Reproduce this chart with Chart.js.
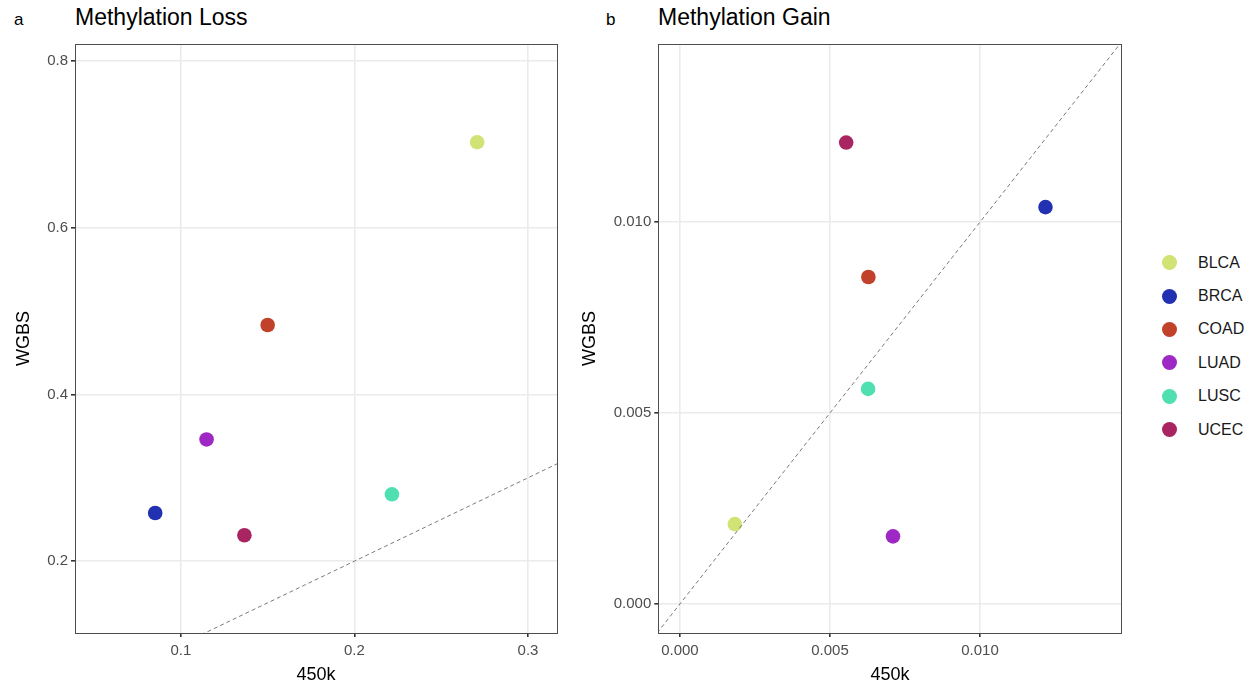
<!DOCTYPE html>
<html>
<head>
<meta charset="utf-8">
<script src="https://cdn.jsdelivr.net/npm/chart.js@4.4.1/dist/chart.umd.min.js"></script>
<style>
  body { margin: 0; background: #fff; font-family: "Liberation Sans", Arial, sans-serif; }
  #wrap { position: relative; width: 1257px; height: 689px; overflow: hidden; }
  canvas { position: absolute; top: 0; }
  .tag { position: absolute; font-size: 17px; color: #000; }
  .ttl { position: absolute; font-size: 23px; color: #000; }
  #legend { position: absolute; left: 1162px; top: 246px; }
  .item { height: 33.4px; display: flex; align-items: center; font-size: 16px; color: #1a1a1a; }
  .dot { width: 15px; height: 15px; border-radius: 50%; margin-right: 21px; }
</style>
</head>
<body>
<div id="wrap">
  <div class="tag" style="left:14px;top:10px">a</div>
  <div class="ttl" style="left:75px;top:4px">Methylation Loss</div>
  <div class="tag" style="left:606px;top:10px">b</div>
  <div class="ttl" style="left:658px;top:4px">Methylation Gain</div>
  <canvas id="loss" width="580" height="689" style="left:0"></canvas>
  <canvas id="gain" width="574" height="689" style="left:566px"></canvas>
  <div id="legend"></div>
</div>
<script>
const categories = ['BLCA', 'BRCA', 'COAD', 'LUAD', 'LUSC', 'UCEC'];
const colors = ['#d0e374', '#2230b2', '#c1412a', '#9e28c4', '#4fdfb1', '#a82562'];

// panel a: methylation loss
const lossX = [0.2707, 0.0852, 0.1500, 0.1148, 0.2216, 0.1366];
const lossY = [0.7026, 0.2578, 0.4833, 0.3460, 0.2802, 0.2311];
const lossTicksX = [0.1, 0.2, 0.3];
const lossTicksY = [0.2, 0.4, 0.6, 0.8];
const lossRangeX = [0.039, 0.3167];
const lossRangeY = [0.1138, 0.8204];

// panel b: methylation gain
const gainX = [0.00183, 0.01218, 0.00628, 0.00710, 0.00627, 0.00554];
const gainY = [0.00209, 0.01039, 0.00856, 0.00177, 0.00563, 0.01208];
const gainTicksX = [0, 0.005, 0.010];
const gainTicksY = [0, 0.005, 0.010];
const gainRangeX = [-0.00072, 0.01472];
const gainRangeY = [-0.00076, 0.01466];

const FONT = '"Liberation Sans", Arial, sans-serif';

const panelBox = {
  id: 'panelBox',
  afterDraw(chart) {
    const a = chart.chartArea, ctx = chart.ctx;
    ctx.save();
    ctx.strokeStyle = '#4d4d4d';
    ctx.lineWidth = 1;
    ctx.strokeRect(Math.round(a.left) + 0.5, Math.round(a.top) + 0.5,
      Math.round(a.right - a.left), Math.round(a.bottom - a.top));
    ctx.restore();
  }
};

function makeAxis(range, ticks, digits, titleText, horizontal, size) {
  return {
    type: 'linear',
    min: range[0],
    max: range[1],
    afterBuildTicks: s => { s.ticks = ticks.map(v => ({ value: v })); },
    afterFit: s => { if (horizontal) s.height = size; else s.width = size; },
    grid: { color: '#ebebeb', lineWidth: 1.6, tickColor: '#333333', tickLength: 4, drawTicks: true },
    border: { display: false },
    ticks: {
      color: '#4d4d4d', font: { family: FONT, size: 15 }, padding: horizontal ? 5 : 3,
      callback: v => Number(v).toFixed(digits)
    },
    title: {
      display: true, text: titleText, color: '#000',
      font: { family: FONT, size: 18 },
      padding: horizontal ? { top: 0, bottom: 3 } : { top: 13, bottom: 0 }
    }
  };
}

function drawPanel(id, xs, ys, rx, ry, tx, ty, digits, yWidth, padRight) {
  const pts = xs.map((x, i) => ({ x: x, y: ys[i] }));
  const lo = Math.min(rx[0], ry[0]), hi = Math.max(rx[1], ry[1]);
  new Chart(document.getElementById(id), {
    type: 'scatter',
    data: {
      datasets: [
        {
          type: 'line',
          data: [{ x: lo, y: lo }, { x: hi, y: hi }],
          borderColor: '#6b6b6b', borderWidth: 0.9, borderDash: [4, 3],
          pointRadius: 0, fill: false
        },
        {
          data: pts,
          backgroundColor: colors, borderColor: colors,
          pointRadius: 7.3, borderWidth: 0
        }
      ]
    },
    options: {
      responsive: false,
      animation: false,
      layout: { padding: { top: 44, right: padRight, bottom: 0, left: 0 } },
      plugins: { legend: { display: false }, tooltip: { enabled: false } },
      scales: {
        x: makeAxis(rx, tx, digits, '450k', true, 56),
        y: makeAxis(ry, ty, digits, 'WGBS', false, yWidth)
      }
    },
    plugins: [panelBox]
  });
}

drawPanel('loss', lossX, lossY, lossRangeX, lossRangeY, lossTicksX, lossTicksY, 1, 75, 23);
drawPanel('gain', gainX, gainY, gainRangeX, gainRangeY, gainTicksX, gainTicksY, 3, 92.3, 18.3);

const legend = document.getElementById('legend');
categories.forEach((c, i) => {
  const row = document.createElement('div');
  row.className = 'item';
  row.innerHTML = '<span class="dot" style="background:' + colors[i] + '"></span>' + c;
  legend.appendChild(row);
});
</script>
</body>
</html>
